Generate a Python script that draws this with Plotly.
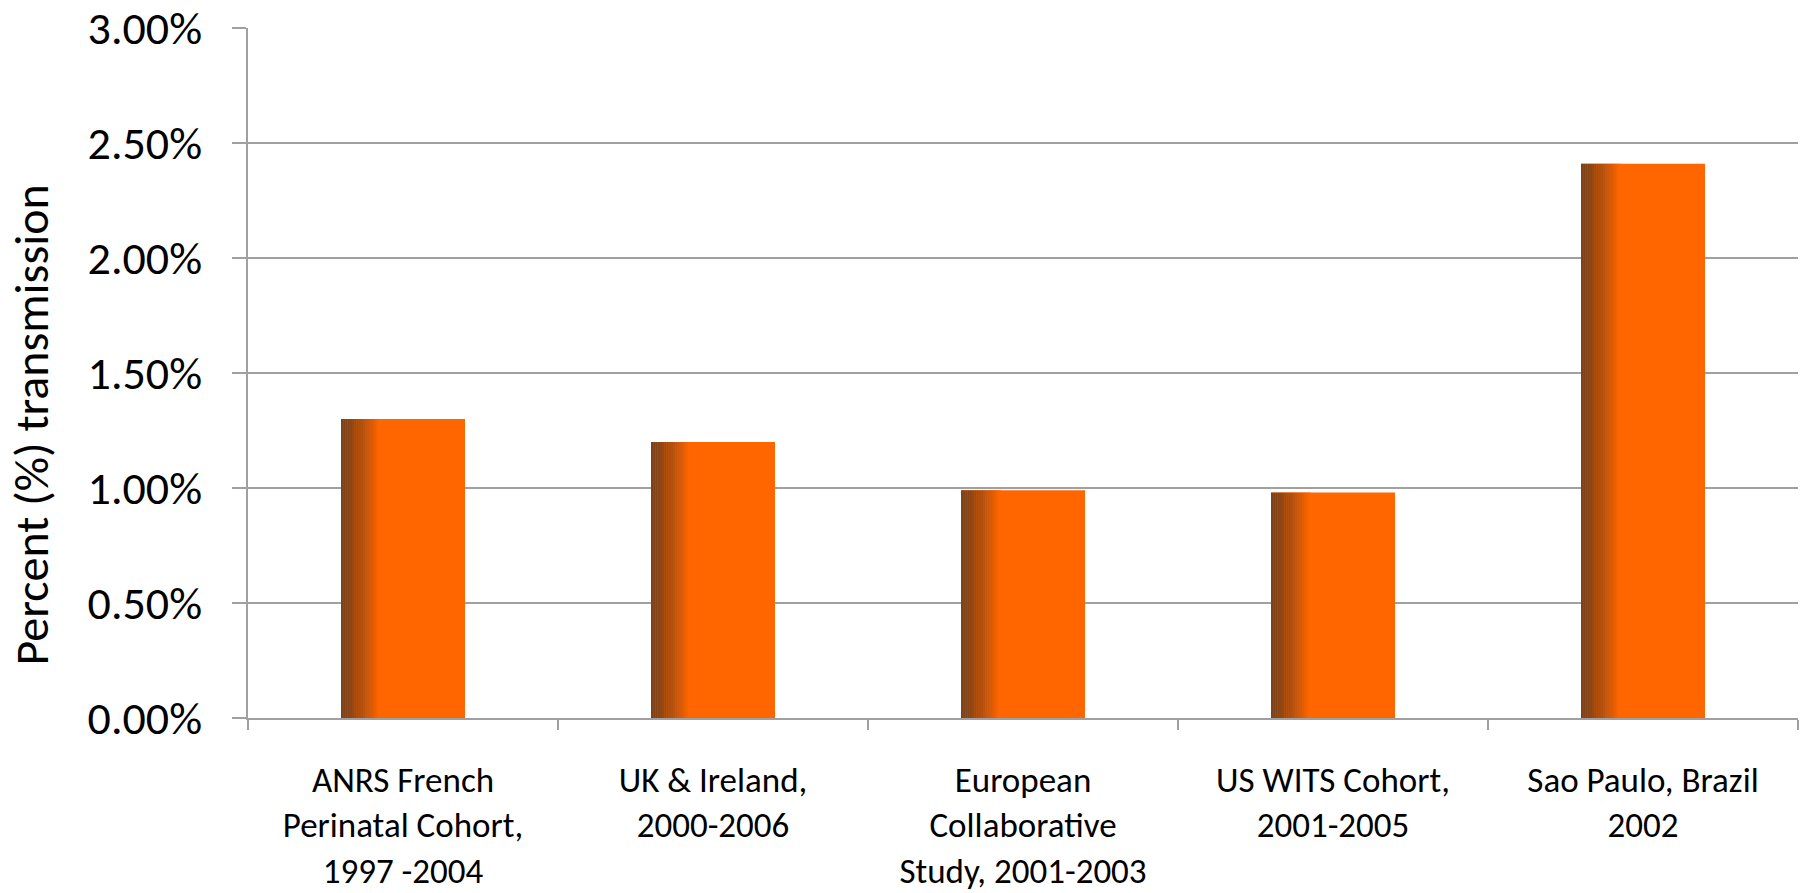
import plotly.graph_objects as go

categories = [
    "ANRS French<br>Perinatal Cohort,<br>1997 -2004",
    "UK & Ireland,<br>2000-2006",
    "European<br>Collaborative<br>Study, 2001-2003",
    "US WITS Cohort,<br>2001-2005",
    "Sao Paulo, Brazil<br>2002",
]
values = [0.0130, 0.0120, 0.0099, 0.0098, 0.0241]
y_ticks = [0, 0.005, 0.01, 0.015, 0.02, 0.025, 0.03]
y_title = "Percent (%) transmission"

BAR_W = 0.4
DARK = (126, 65, 24)
ORANGE = (255, 102, 0)

def mix(t):
    c = [round(DARK[i] + (ORANGE[i] - DARK[i]) * t) for i in range(3)]
    return "rgb(%d,%d,%d)" % tuple(c)

fig = go.Figure()
# base bar
fig.add_trace(go.Bar(x=categories, y=values, width=BAR_W,
                     marker=dict(color="#FF6600", line=dict(width=0)),
                     hoverinfo="skip", showlegend=False))
# left-edge shading strips (gradient dark brown -> orange)
n = 18
span = 0.32 * BAR_W
dw = span / n
for i in range(n):
    t = (i / (n - 1)) ** 1.4
    fig.add_trace(go.Bar(x=categories, y=values, width=dw * 1.05,
                         offset=-BAR_W / 2 + i * dw,
                         marker=dict(color=mix(t), line=dict(width=0)),
                         hoverinfo="skip", showlegend=False))

fig.update_layout(
    width=1806, height=893,
    margin=dict(l=248, r=8, t=28, b=175),
    barmode="overlay",
    plot_bgcolor="white", paper_bgcolor="white",
    font=dict(family="Carlito, Lato, sans-serif", color="black"),
    annotations=[dict(
        text=y_title, textangle=-90, xref="paper", yref="paper",
        x=-0.14, y=0.4254, xanchor="center", yanchor="middle",
        showarrow=False, font=dict(size=48),
    )],
)
fig.update_yaxes(
    range=[0, 0.03], tickvals=y_ticks, tickformat=".2%",
    showgrid=True, gridcolor="#A0A0A0", gridwidth=1.5,
    showline=True, linecolor="#A0A0A0", linewidth=1.5,
    ticks="outside", ticklen=14, tickcolor="#A0A0A0", tickwidth=1.5,
    ticklabelstandoff=21, ticklabeloverflow="allow",
    tickfont=dict(size=46),
    zeroline=False, automargin=False,
)
fig.update_xaxes(
    showline=True, linecolor="#A0A0A0", linewidth=1.5,
    ticks="outside", tickson="boundaries", ticklen=10, tickcolor="#A0A0A0", tickwidth=1.5,
    tickfont=dict(size=35), ticklabeloverflow="allow",
    ticklabelstandoff=30, automargin=False,
)

fig.write_html("out.html")
